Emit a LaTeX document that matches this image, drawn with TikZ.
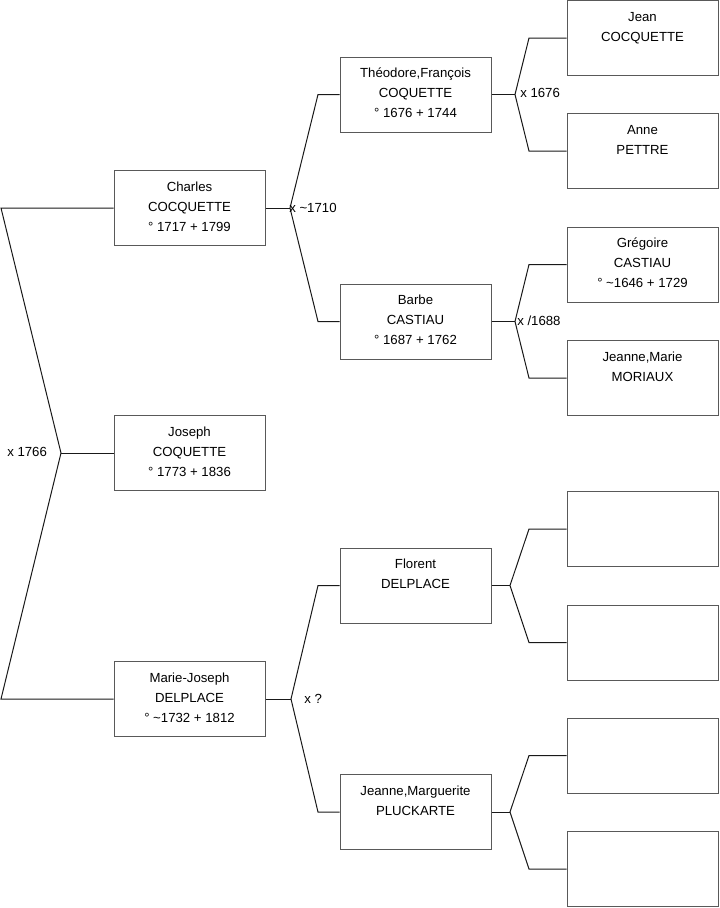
\documentclass[tikz,border=0pt]{standalone}
\usepackage{fontspec}
\setmainfont{Liberation Sans}
\begin{document}
\begin{tikzpicture}[x=0.75pt,y=-0.75pt,
  box/.style={draw=black!65,line width=0.75pt,minimum width=113.25pt,minimum height=56.25pt,inner sep=0pt,fill=white},
  txt/.style={font=\fontsize{9.9}{15}\selectfont,align=center,inner sep=0pt,anchor=north},
  lab/.style={font=\fontsize{9.9}{15}\selectfont,inner sep=0pt,anchor=west},
  conn/.style={draw=black!90,line width=0.75pt}]
\useasboundingbox (0,0) rectangle (719,908);
% generation 1-2
\node[box] (charles) at (189.5,208) {};
\node[txt] (charlest) at ([yshift=-5.2pt]charles.north) {\strut Charles\\COCQUETTE\\° 1717 + 1799};
\node[box] (joseph) at (189.5,453) {};
\node[txt] (josepht) at ([yshift=-5.2pt]joseph.north) {\strut Joseph\\COQUETTE\\° 1773 + 1836};
\node[box] (marie) at (189.5,699) {};
\node[txt] (mariet) at ([yshift=-5.2pt]marie.north) {\strut Marie-Joseph\\DELPLACE\\° \textasciitilde1732 + 1812};
% generation 3
\node[box] (theo) at (415.5,94.5) {};
\node[txt] (theot) at ([yshift=-5.2pt]theo.north) {\strut Théodore,François\\COQUETTE\\° 1676 + 1744};
\node[box] (barbe) at (415.5,321.5) {};
\node[txt] (barbet) at ([yshift=-5.2pt]barbe.north) {\strut Barbe\\CASTIAU\\° 1687 + 1762};
\node[box] (florent) at (415.5,585.5) {};
\node[txt] (florentt) at ([yshift=-5.2pt]florent.north) {\strut Florent\\DELPLACE};
\node[box] (jmarg) at (415.5,812) {};
\node[txt] (jmargt) at ([yshift=-5.2pt]jmarg.north) {\strut Jeanne,Marguerite\\PLUCKARTE};
% generation 4
\node[box] (jean) at (642.5,38) {};
\node[txt] (jeant) at ([yshift=-5.2pt]jean.north) {\strut Jean\\COCQUETTE};
\node[box] (anne) at (642.5,151) {};
\node[txt] (annet) at ([yshift=-5.2pt]anne.north) {\strut Anne\\PETTRE};
\node[box] (greg) at (642.5,264.5) {};
\node[txt] (gregt) at ([yshift=-5.2pt]greg.north) {\strut Grégoire\\CASTIAU\\° \textasciitilde1646 + 1729};
\node[box] (jmarie) at (642.5,378) {};
\node[txt] (jmariet) at ([yshift=-5.2pt]jmarie.north) {\strut Jeanne,Marie\\MORIAUX};
\node[box] (e1) at (642.5,529) {};
\node[box] (e2) at (642.5,642.5) {};
\node[box] (e3) at (642.5,755.5) {};
\node[box] (e4) at (642.5,869) {};
% junction coordinates
\coordinate (r0) at (1,208);
\coordinate (rj) at (61,453);
\coordinate (r1) at (1,699);
\coordinate (c1) at (290,208);
\coordinate (ct) at (318,94.5);
\coordinate (cb) at (318,321.5);
\coordinate (m1) at (291,699);
\coordinate (mt) at (318,585.5);
\coordinate (mb) at (318,812);
\coordinate (t1) at (515,94.5);
\coordinate (tt) at (529,38);
\coordinate (tb) at (529,151);
\coordinate (b1) at (515,321.5);
\coordinate (bt) at (529,264.5);
\coordinate (bb) at (529,378);
\coordinate (f1) at (510,585.5);
\coordinate (ft) at (529,529);
\coordinate (fb) at (529,642.5);
\coordinate (g1) at (510,812);
\coordinate (gt) at (529,755.5);
\coordinate (gb) at (529,869);
% connectors
\draw[conn] (charles.west) -- (r0) -- (rj) -- (r1) -- (marie.west);
\draw[conn] (rj) -- (joseph.west);
\draw[conn] (charles.east) -- (c1);
\draw[conn] (theo.west) -- (ct) -- (c1) -- (cb) -- (barbe.west);
\draw[conn] (marie.east) -- (m1);
\draw[conn] (florent.west) -- (mt) -- (m1) -- (mb) -- (jmarg.west);
\draw[conn] (theo.east) -- (t1);
\draw[conn] (jean.west) -- (tt) -- (t1) -- (tb) -- (anne.west);
\draw[conn] (barbe.east) -- (b1);
\draw[conn] (greg.west) -- (bt) -- (b1) -- (bb) -- (jmarie.west);
\draw[conn] (florent.east) -- (f1);
\draw[conn] (e1.west) -- (ft) -- (f1) -- (fb) -- (e2.west);
\draw[conn] (jmarg.east) -- (g1);
\draw[conn] (e3.west) -- (gt) -- (g1) -- (gb) -- (e4.west);
% labels
\node[lab] (l1) at (7,452) {x 1766};
\node[lab] (l2) at (289,207.5) {x \textasciitilde1710};
\node[lab] (l3) at (304,698.5) {x ?};
\node[lab] (l4) at (520,92.5) {x 1676};
\node[lab] (l5) at (517,320.5) {x /1688};
\end{tikzpicture}
\end{document}
